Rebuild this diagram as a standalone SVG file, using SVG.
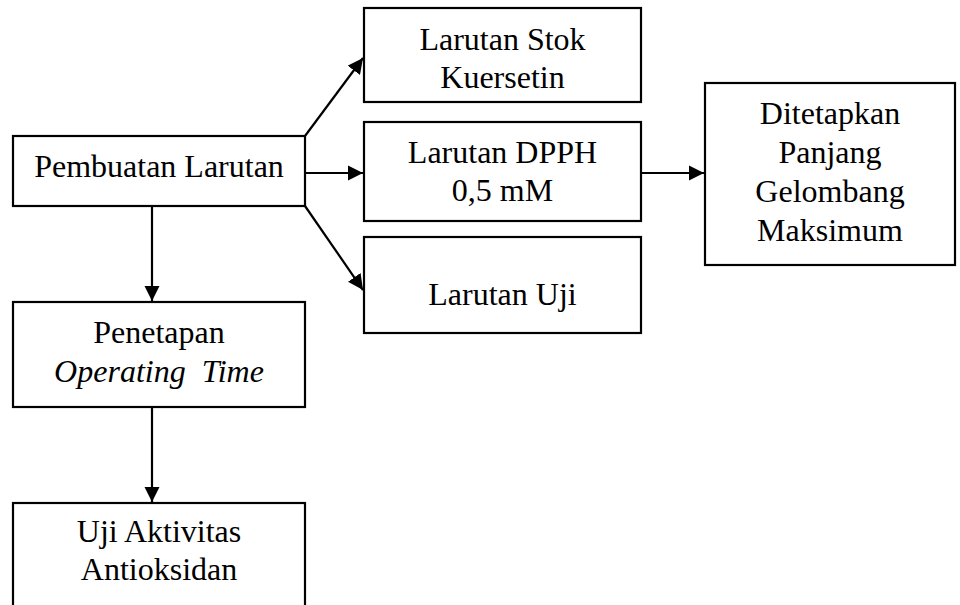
<svg xmlns="http://www.w3.org/2000/svg" width="960" height="605" viewBox="0 0 960 605">
<style>
.box{fill:#fff;stroke:#000;stroke-width:2.2}
.t{font-family:'Liberation Serif',Tinos,'Times New Roman','DejaVu Serif',serif;font-size:32px;fill:#000;text-anchor:middle}
.i{font-style:italic}
.c{stroke:#000;stroke-width:2.2;fill:none}
</style>
<defs>
<marker id="ah" viewBox="0 0 10 10" refX="10" refY="5" markerWidth="7" markerHeight="7" markerUnits="strokeWidth" orient="auto">
<path d="M0,0 L10,5 L0,10 z" fill="#000"/>
</marker>
</defs>
<rect width="960" height="605" fill="#fff"/>
<g id="connectors">
<line class="c" x1="305" y1="136" x2="363" y2="58" marker-end="url(#ah)"/>
<line class="c" x1="305" y1="173" x2="363" y2="173" marker-end="url(#ah)"/>
<line class="c" x1="305" y1="206" x2="363" y2="290" marker-end="url(#ah)"/>
<line class="c" x1="641" y1="173" x2="704" y2="173" marker-end="url(#ah)"/>
<line class="c" x1="152" y1="206" x2="152" y2="301" marker-end="url(#ah)"/>
<line class="c" x1="152" y1="407" x2="152" y2="502" marker-end="url(#ah)"/>
</g>
<g id="pembuatan">
<rect class="box" x="13" y="136" width="292" height="70"/>
<text class="t" x="159" y="177">Pembuatan Larutan</text>
</g>
<g id="stok">
<rect class="box" x="364" y="8" width="277" height="94"/>
<text class="t" x="502.5" y="50">Larutan Stok</text>
<text class="t" x="502.5" y="88">Kuersetin</text>
</g>
<g id="dpph">
<rect class="box" x="364" y="122" width="277" height="99"/>
<text class="t" x="502.5" y="163">Larutan DPPH</text>
<text class="t" x="502.5" y="201">0,5 mM</text>
</g>
<g id="uji">
<rect class="box" x="364" y="237" width="277" height="96"/>
<text class="t" x="502.5" y="305">Larutan Uji</text>
</g>
<g id="ditetapkan">
<rect class="box" x="705" y="83" width="250" height="182"/>
<text class="t" x="830" y="124">Ditetapkan</text>
<text class="t" x="830" y="163">Panjang</text>
<text class="t" x="830" y="202">Gelombang</text>
<text class="t" x="830" y="241">Maksimum</text>
</g>
<g id="penetapan">
<rect class="box" x="13" y="302" width="292" height="105"/>
<text class="t" x="159" y="343">Penetapan</text>
<text class="t i" x="159" y="382" xml:space="preserve">Operating  Time</text>
</g>
<g id="ujiaktivitas">
<rect class="box" x="13" y="503" width="292" height="110"/>
<text class="t" x="159" y="542">Uji Aktivitas</text>
<text class="t" x="159" y="580">Antioksidan</text>
</g>
</svg>
